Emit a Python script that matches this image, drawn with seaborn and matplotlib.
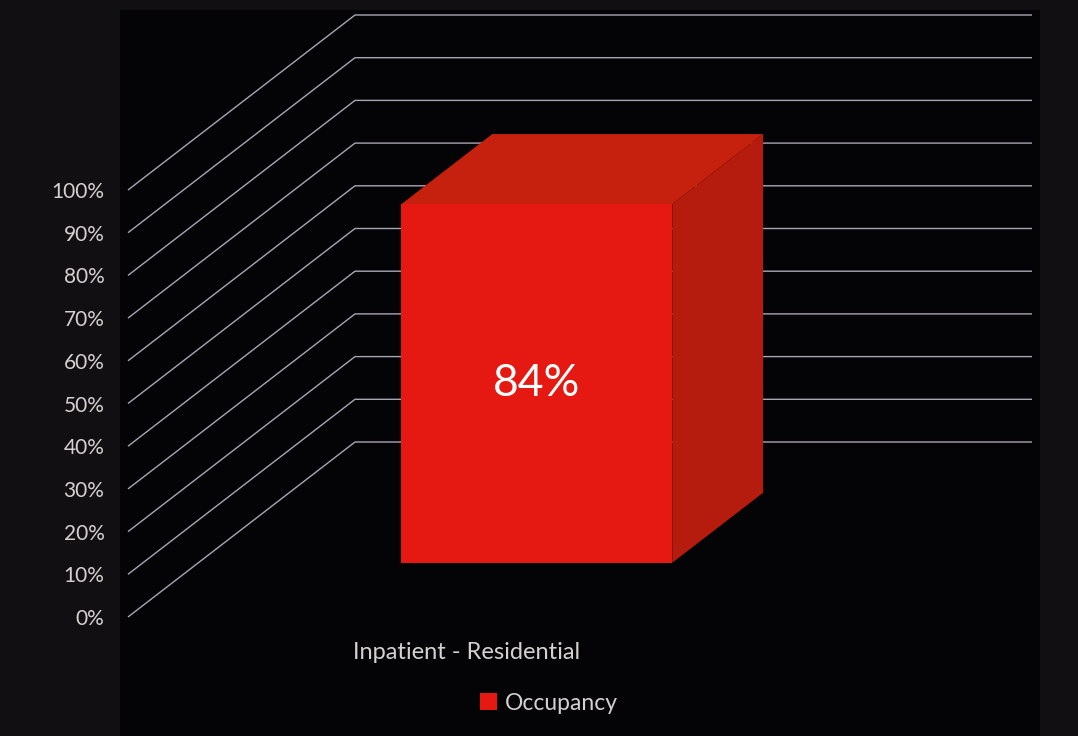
import numpy as np
import pandas as pd
import seaborn as sns
import matplotlib
matplotlib.use("Agg")
import matplotlib.pyplot as plt
from matplotlib.patches import Polygon, Rectangle

# ---- data ----
categories = ["Inpatient - Residential"]
occupancy = [84]
series_names = ["Occupancy"]
y_ticks = [0, 10, 20, 30, 40, 50, 60, 70, 80, 90, 100]
y_tick_labels = [f"{t}%" for t in y_ticks]

# ---- style ----
W, H, DPI = 1078, 736, 100
sns.set_theme(style="dark")
plt.rcParams["font.family"] = ["Lato", "DejaVu Sans"]

FRONT = "#e51812"
TOP = "#c6200e"
SIDE = "#b61c0d"
GRID = "#aaa5b4"
TEXT = "#d6d1d1"

fig = plt.figure(figsize=(W / DPI, H / DPI), dpi=DPI)
fig.patch.set_facecolor("#120f12")
fig.add_artist(Rectangle((120 / W, 0), (1040 - 120) / W, (H - 10) / H,
                         transform=fig.transFigure, facecolor="#040406",
                         edgecolor="none", zorder=0))

# front plane of the 3-D box
ax = fig.add_axes([128 / W, (H - 617) / H, 677 / W, 427 / H])
ax.set_facecolor("none")

df = pd.DataFrame({"category": categories, "occupancy": occupancy,
                   "series": series_names})
sns.barplot(data=df, x="category", y="occupancy", hue="series",
            palette=[FRONT], width=0.4, saturation=1, ax=ax, zorder=3,
            linewidth=0, edgecolor="none")

XL = (-0.5, 0.5)
YL = (0, 100)
# oblique depth vector expressed in data units
DX = 227 * (XL[1] - XL[0]) / 677
DY = 175 * (YL[1] - YL[0]) / 427
FRONT_DEPTH, BAR_DEPTH = 0.31, 0.40

for v in y_ticks:
    ax.plot([XL[0], XL[0] + DX, XL[1] + DX], [v, v + DY, v + DY],
            color=GRID, lw=1.0, clip_on=False, zorder=1,
            solid_capstyle="butt")

bars = ax.containers[0]
for rect in bars.patches:
    rect.set_x(rect.get_x() + FRONT_DEPTH * DX)
    rect.set_y(rect.get_y() + FRONT_DEPTH * DY)
    rect.set_clip_on(False)
    rect.set_edgecolor("none")
    rect.set_linewidth(0)
    x, y, w, h = rect.get_x(), rect.get_y(), rect.get_width(), rect.get_height()
    bx, by = BAR_DEPTH * DX, BAR_DEPTH * DY
    ax.add_patch(Polygon([(x, y + h), (x + w, y + h), (x + w + bx, y + h + by),
                          (x + bx, y + h + by)], closed=True, facecolor=TOP,
                         edgecolor="none", zorder=2.9, clip_on=False))
    ax.add_patch(Polygon([(x + w, y), (x + w + bx, y + by),
                          (x + w + bx, y + h + by), (x + w, y + h)],
                         closed=True, facecolor=SIDE, edgecolor="none",
                         zorder=2.9, clip_on=False))

for t in ax.bar_label(bars, labels=[f"{v:g}%" for v in occupancy],
                      label_type="center", color="white", fontsize=32):
    t.set_zorder(6)

ax.set_xlim(*XL)
ax.set_ylim(*YL)
ax.set_yticks(y_ticks, y_tick_labels)
ax.tick_params(axis="y", length=0, pad=17, labelcolor=TEXT, labelsize=15)
ax.tick_params(axis="x", length=0, pad=18, labelcolor=TEXT, labelsize=17)
ax.set_xlabel("")
ax.set_ylabel("")
ax.grid(False)
for s in ax.spines.values():
    s.set_visible(False)

sns.move_legend(ax, "center", bbox_to_anchor=(549 / W, 1 - 703 / H),
                bbox_transform=fig.transFigure, frameon=False, title=None,
                fontsize=16.5, handlelength=0.7, handleheight=0.7,
                handletextpad=0.35, labelcolor=TEXT)
leg = ax.get_legend()
for hnd in leg.legend_handles:
    hnd.set_edgecolor("none")
    hnd.set_linewidth(0)

fig.savefig("out.png", dpi=DPI, facecolor=fig.get_facecolor())
